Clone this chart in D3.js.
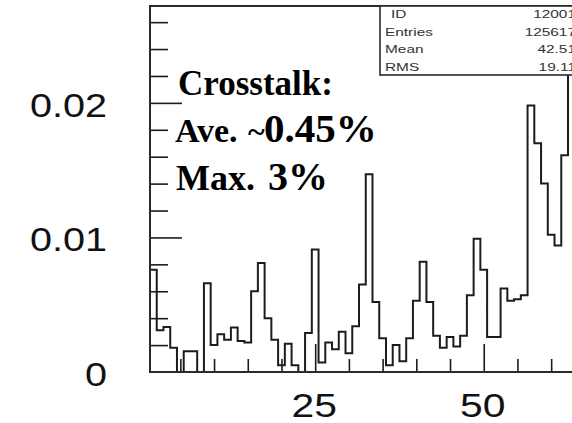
<!DOCTYPE html>
<html>
<head>
<meta charset="utf-8">
<script src="https://cdn.jsdelivr.net/npm/d3@7"></script>
<style>
  body { margin: 0; background: #fff; overflow: hidden; }
  svg { display: block; }
</style>
</head>
<body>
<svg width="572" height="423"></svg>
<script>
// channel numbers (bin width 1, bins centred on integers)
const channels = d3.range(1, 65);
// normalised crosstalk per channel
const contents = [
  0.0076, 0.0031, 0.00335, 0.0018, 0, 0.00155, 0.00155, 0, 0.0066, 0.002,
  0.0028, 0.0024, 0.0033, 0.0023, 0.0022, 0.006, 0.0081, 0.004, 0.0024, 0.0005,
  0.0021, 0.0005, 0, 0.0029, 0.0091, 0.0007, 0.0022, 0.0017, 0.003, 0.0014,
  0.0034, 0.0065, 0.0147, 0.0052, 0.0025, 0.0005, 0.002, 0.0008, 0.0025, 0.0053,
  0.0082, 0.0052, 0.0027, 0.0018, 0.0026, 0.0019, 0.0027, 0.0057, 0.0099, 0.0076,
  0.0026, 0.0026, 0.0062, 0.0053, 0.0054, 0.0057, 0.0198, 0.017, 0.014, 0.0102,
  0.0094, 0.0161, 0.03, 0.02
];

const yMajor = [0, 0.01, 0.02];
const yMinor = [0.002, 0.004, 0.006, 0.008, 0.012, 0.014, 0.016, 0.018, 0.022, 0.024, 0.026];
const yLabels = ["0", "0.01", "0.02"];
const xMajor = [25, 50];
const xMinor = [5, 10, 15, 20, 30, 35, 40, 45, 55, 60];
const xLabels = ["25", "50"];

const statNames = ["ID", "Entries", "Mean", "RMS"];
const statValues = ["12001", "125617", "42.51", "19.11"];

const svg = d3.select("svg");
const ink = "#1c1c1c";

const x = d3.scaleLinear().domain([0.5, 64.5]).range([150, 581.5]);
const y = d3.scaleLinear().domain([0, 0.0272]).range([372, 6]);

svg.append("defs").append("clipPath").attr("id", "frame")
  .append("rect")
  .attr("x", x(0.5)).attr("y", y(0.0272))
  .attr("width", x(64.5) - x(0.5)).attr("height", y(0) - y(0.0272));

// ticks (inward, ROOT style)
const tickLayer = svg.append("g").attr("stroke", ink);
function yTicks(vals, len) {
  const ax = d3.axisLeft(y).tickValues(vals).tickSize(-len).tickFormat("");
  const g = tickLayer.append("g").attr("transform", `translate(${x(0.5)},0)`).call(ax);
  g.select(".domain").remove();
  g.selectAll("line").attr("stroke", ink).attr("stroke-width", 1.6);
}
function xTicks(vals, len) {
  const ax = d3.axisBottom(x).tickValues(vals).tickSize(-len).tickFormat("");
  const g = tickLayer.append("g").attr("transform", `translate(0,${y(0)})`).call(ax);
  g.select(".domain").remove();
  g.selectAll("line").attr("stroke", ink).attr("stroke-width", 1.6);
}
yTicks(yMinor, 18);
yTicks(yMajor.filter(d => d > 0), 32);
xTicks(xMinor, 13);
xTicks(xMajor, 28);

// histogram outline
const pts = [[0.5, 0]];
channels.forEach((c, i) => pts.push([c - 0.5, contents[i]]));
pts.push([channels[channels.length - 1] + 0.5, contents[contents.length - 1]]);
pts.push([channels[channels.length - 1] + 0.5, 0]);

const line = d3.line()
  .x(d => x(d[0]))
  .y(d => y(d[1]))
  .curve(d3.curveStepAfter);

svg.append("path")
  .attr("clip-path", "url(#frame)")
  .attr("d", line(pts))
  .attr("fill", "none")
  .attr("stroke", ink)
  .attr("stroke-width", 2);

// frame
svg.append("path")
  .attr("d", `M${x(64.5)},${y(0.0272)}H${x(0.5)}V${y(0)}H${x(64.5)}`)
  .attr("fill", "none")
  .attr("stroke", "#2a2a2a")
  .attr("stroke-width", 2);

// axis labels (the original is stretched sideways)
svg.append("g").selectAll("text")
  .data(yMajor)
  .enter().append("text")
  .attr("transform", d => `translate(107,${y(d) + 14}) scale(1.2,1)`)
  .attr("text-anchor", "end")
  .attr("font-family", "Liberation Sans, Arial, sans-serif")
  .attr("font-size", 33)
  .attr("fill", "#111")
  .text((d, i) => yLabels[i]);

svg.append("g").selectAll("text")
  .data(xMajor)
  .enter().append("text")
  .attr("transform", d => `translate(${x(d) - 1},417) scale(1.2,1)`)
  .attr("text-anchor", "middle")
  .attr("font-family", "Liberation Sans, Arial, sans-serif")
  .attr("font-size", 34)
  .attr("fill", "#111")
  .text((d, i) => xLabels[i]);

// stats box
const stats = svg.append("g");
stats.append("rect")
  .attr("x", 380).attr("y", 6)
  .attr("width", 230).attr("height", 69)
  .attr("fill", "#fff")
  .attr("stroke", "#2a2a2a")
  .attr("stroke-width", 1.6);

stats.selectAll("text.name")
  .data(statNames)
  .enter().append("text")
  .attr("class", "name")
  .attr("transform", (d, i) => `translate(${i === 0 ? 391 : 385},${18 + i * 17.5}) scale(1.4,1)`)
  .attr("font-family", "Liberation Sans, Arial, sans-serif")
  .attr("font-size", 11)
  .attr("fill", "#333")
  .text(d => d);

stats.selectAll("text.val")
  .data(statValues)
  .enter().append("text")
  .attr("class", "val")
  .attr("transform", (d, i) => `translate(576,${18 + i * 17.5}) scale(1.4,1)`)
  .attr("text-anchor", "end")
  .attr("font-family", "Liberation Sans, Arial, sans-serif")
  .attr("font-size", 11)
  .attr("fill", "#333")
  .text(d => d);

// annotation
const note = svg.append("g")
  .attr("font-family", "Liberation Serif, Times New Roman, serif")
  .attr("font-weight", "bold")
  .attr("fill", "#000");

note.append("text").attr("x", 178).attr("y", 95).attr("font-size", 35).text("Crosstalk:");

const ave = note.append("text").attr("y", 142);
ave.append("tspan").attr("x", 175).attr("font-size", 34).text("Ave.");
ave.append("tspan").attr("x", 248).attr("font-size", 32).text("~");
ave.append("tspan").attr("x", 264).attr("font-size", 41).text("0.45%");

const mx = note.append("text").attr("y", 190);
mx.append("tspan").attr("x", 176).attr("font-size", 36).text("Max.");
mx.append("tspan").attr("x", 268).attr("font-size", 40).text("3%");
</script>
</body>
</html>
